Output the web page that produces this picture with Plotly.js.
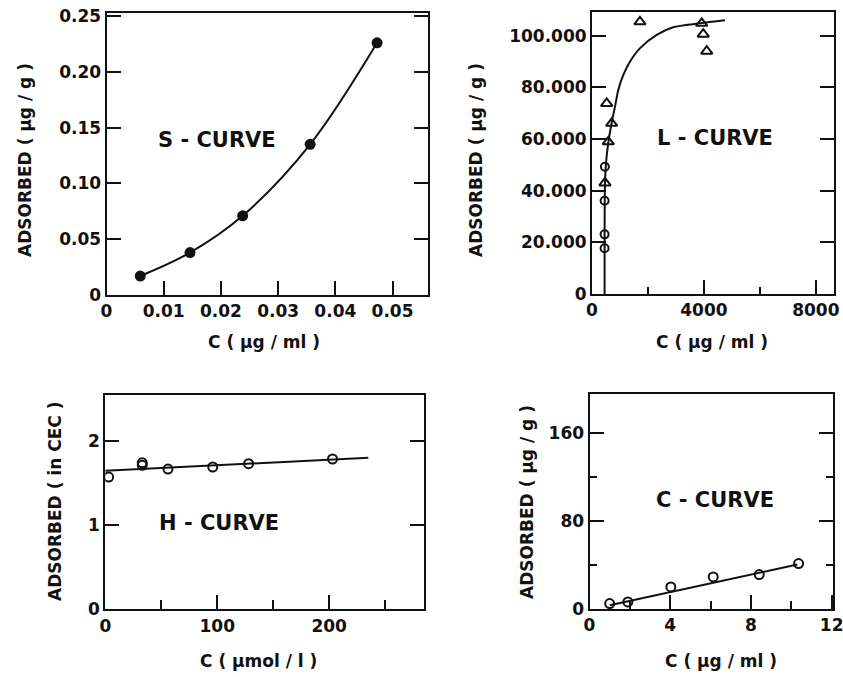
<!DOCTYPE html>
<html><head><meta charset="utf-8">
<script src="https://cdn.plot.ly/plotly-3.0.1.min.js"></script>
<style>html,body{margin:0;padding:0;background:#fff}#chart{width:843px;height:677px}</style>
</head><body><div id="chart"></div>
<script>
// ---- S-curve (top left)
const sX = [0.0059, 0.0146, 0.0238, 0.0356, 0.0473];
const sY = [0.017, 0.038, 0.071, 0.135, 0.226];
const sYTicks = [0, 0.05, 0.10, 0.15, 0.20, 0.25];
const sYText = ['0', '0.05', '0.10', '0.15', '0.20', '0.25'];

// ---- L-curve (top right)
const lCircleX = [450, 450, 450, 460];
const lCircleY = [17700, 23100, 36100, 49300];
const lTriX = [464, 582, 703, 525, 1714, 3920, 3975, 4100];
const lTriY = [43000, 58900, 66100, 73800, 105400, 104800, 100600, 94000];
const lFitX = [450, 450, 455, 465, 500, 580, 700, 820, 940, 1120, 1360, 1710, 2310, 2900, 3860, 4750];
const lFitY = [0, 20000, 35000, 43000, 50600, 58400, 66100, 72500, 79000, 84800, 90000, 95100, 100300, 103300, 104800, 106000];
const lYTicks = [0, 20000, 40000, 60000, 80000, 100000];
const lYText = ['0', '20.000', '40.000', '60.000', '80.000', '100.000'];
const lXTicks = [0, 4000, 8000];

// ---- H-curve (bottom left)
const hX = [3, 33, 33, 56, 96, 128, 203];
const hY = [1.57, 1.74, 1.71, 1.665, 1.69, 1.73, 1.785];
const hFitX = [0, 235];
const hFitY = [1.645, 1.80];
const hXTicks = [0, 100, 200];
const hYTicks = [0, 1, 2];

// ---- C-curve (bottom right)
const cX = [1.0, 1.9, 4.03, 6.13, 8.41, 10.36];
const cY = [4.9, 6.4, 20.1, 29.2, 31.4, 41.4];
const cFitX = [1.0, 10.3];
const cFitY = [3.5, 40.5];
const cXTicks = [0, 4, 8, 12];
const cYTicks = [0, 80, 160];
const cYMinorTicks = [40, 120];

const INK = '#111';
const FONT = {family: 'DejaVu Sans', size: 17, color: INK, weight: 'bold'};
const W = 843, H = 677;
const dx = (a, b) => [a / W, b / W];
const dy = (top, bottom) => [1 - bottom / H, 1 - top / H];

function ax(extra, isY) {
  return Object.assign({
    showline: true, linewidth: 2, linecolor: INK,
    mirror: isY ? 'ticks' : true,
    ticks: 'inside', ticklen: 14, tickwidth: 2, tickcolor: INK,
    showgrid: false, zeroline: false, fixedrange: true,
    ticklabeloverflow: 'allow',
    tickfont: FONT
  }, extra);
}

const traces = [
  {x: sX, y: sY, xaxis: 'x', yaxis: 'y', mode: 'lines+markers', line: {shape: 'spline', color: INK, width: 2},
   marker: {symbol: 'circle', size: 11, color: INK}},
  {x: lFitX, y: lFitY, xaxis: 'x2', yaxis: 'y2', mode: 'lines', line: {shape: 'spline', smoothing: 0.8, color: INK, width: 2}},
  {x: lCircleX, y: lCircleY, xaxis: 'x2', yaxis: 'y2', mode: 'markers',
   marker: {symbol: 'circle-open', size: 8, color: INK, line: {width: 2, color: INK}}},
  {x: lTriX, y: lTriY, xaxis: 'x2', yaxis: 'y2', mode: 'markers',
   marker: {symbol: 'triangle-up-open', size: 10, color: INK, line: {width: 2, color: INK}}},
  {x: hFitX, y: hFitY, xaxis: 'x3', yaxis: 'y3', mode: 'lines', line: {color: INK, width: 2}},
  {x: hX, y: hY, xaxis: 'x3', yaxis: 'y3', mode: 'markers',
   marker: {symbol: 'circle-open', size: 9, color: INK, line: {width: 2, color: INK}}},
  {x: cFitX, y: cFitY, xaxis: 'x4', yaxis: 'y4', mode: 'lines', line: {color: INK, width: 2}},
  {x: cX, y: cY, xaxis: 'x4', yaxis: 'y4', mode: 'markers',
   marker: {symbol: 'circle-open', size: 9, color: INK, line: {width: 2, color: INK}}},
  // empty trace so the right-hand minor-tick axis of the C-curve panel is drawn
  {x: [], y: [], xaxis: 'x4', yaxis: 'y5', mode: 'markers', hoverinfo: 'skip'}
];

function ann(text, px, py, size, angle) {
  return {text: text, x: px / W, y: 1 - py / H, xref: 'paper', yref: 'paper', showarrow: false,
    xanchor: 'center', yanchor: 'middle', textangle: angle || 0,
    font: {family: 'DejaVu Sans', size: size, color: INK, weight: 'bold'}};
}

const layout = {
  width: W, height: H, margin: {l: 0, r: 0, t: 0, b: 0},
  paper_bgcolor: '#fff', plot_bgcolor: '#fff', showlegend: false,
  xaxis: ax({domain: dx(106.5, 427.7), range: [0, 0.05615], anchor: 'y', dtick: 0.01, tick0: 0}),
  yaxis: ax({domain: dy(12.7, 295), range: [0, 0.253], anchor: 'x', tickvals: sYTicks, ticktext: sYText}, true),
  xaxis2: ax({domain: dx(592, 833.5), range: [0, 8630], anchor: 'y2', tickvals: lXTicks,
    minor: {dtick: 2000, tick0: 0, ticks: 'inside', ticklen: 7, tickwidth: 2, tickcolor: INK}}),
  yaxis2: ax({domain: dy(11.7, 294), range: [0, 109300], anchor: 'x2', tickvals: lYTicks, ticktext: lYText}, true),
  xaxis3: ax({domain: dx(105.3, 424.3), range: [0, 285], anchor: 'y3', tickvals: hXTicks,
    minor: {dtick: 50, tick0: 0, ticks: 'inside', ticklen: 9, tickwidth: 2, tickcolor: INK}}),
  yaxis3: ax({domain: dy(395, 609.3), range: [0, 2.545], anchor: 'x3', tickvals: hYTicks}, true),
  xaxis4: ax({domain: dx(589.5, 833.3), range: [0, 12.08], anchor: 'y4', tickvals: cXTicks,
    minor: {dtick: 2, tick0: 0, ticks: 'inside', ticklen: 8, tickwidth: 2, tickcolor: INK}}),
  yaxis4: ax({domain: dy(394.3, 609), range: [0, 195.5], anchor: 'x4', tickvals: cYTicks,
    minor: {dtick: 40, tick0: 0, ticks: 'inside', ticklen: 7, tickwidth: 2, tickcolor: INK}}, true),
  yaxis5: {overlaying: 'y4', anchor: 'x4', side: 'right', range: [0, 195.5], tickvals: cYMinorTicks,
    ticks: 'inside', ticklen: 7, tickwidth: 2, tickcolor: INK, showticklabels: false,
    showline: false, showgrid: false, zeroline: false, fixedrange: true},
  annotations: [
    ann('S - CURVE', 217, 140, 21),
    ann('L - CURVE', 715, 138, 21),
    ann('H - CURVE', 219, 523, 21),
    ann('C - CURVE', 715, 500, 21),
    ann('ADSORBED ( μg / g )', 25, 160, 17, -90),
    ann('ADSORBED ( μg / g )', 476, 160, 17, -90),
    ann('ADSORBED ( in CEC )', 55, 502, 17, -90),
    ann('ADSORBED ( μg / g )', 527, 502, 17, -90),
    ann('C ( μg / ml )', 264, 342, 17),
    ann('C ( μg / ml )', 712, 342, 17),
    ann('C ( μmol / l )', 258, 661, 17),
    ann('C ( μg / ml )', 721, 661, 17)
  ]
};

Plotly.newPlot('chart', traces, layout, {displayModeBar: false, staticPlot: true});
</script></body></html>
